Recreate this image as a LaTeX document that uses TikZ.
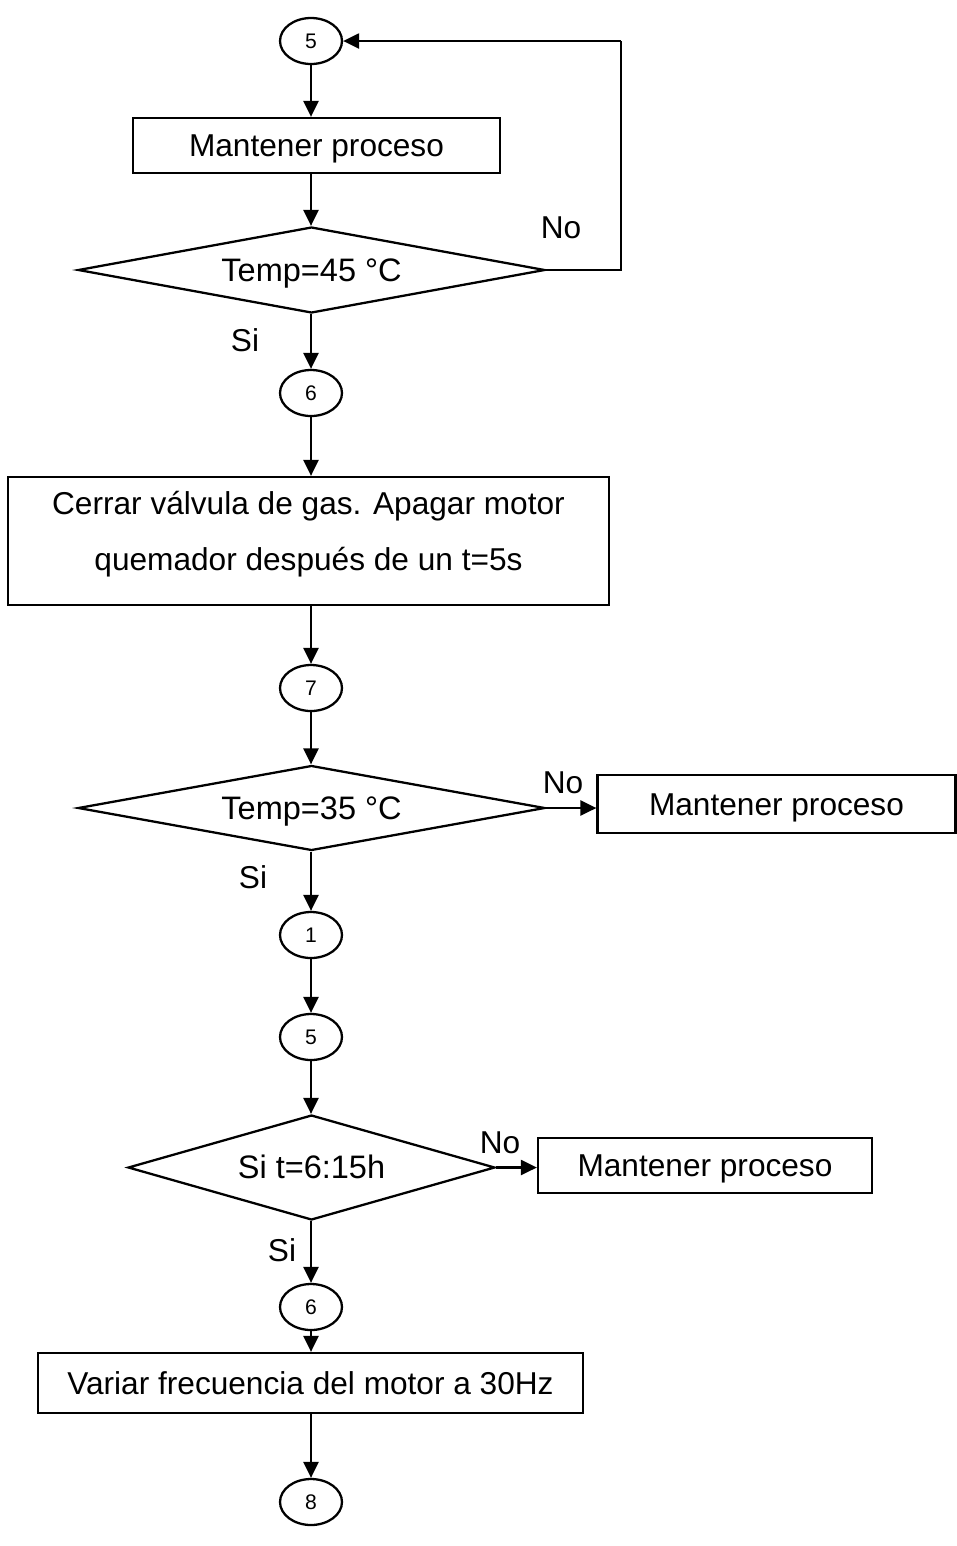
\documentclass[tikz,border=0pt]{standalone}
\usepackage{fontspec}
\setmainfont{Liberation Sans}
\usepackage{tikz}
\usetikzlibrary{arrows.meta,positioning,shapes.geometric,calc}
\tikzset{
  fc/proc/.style={draw, line width=1.3pt, rectangle, inner sep=0pt, align=center, font=\fontsize{18}{32}\selectfont},
  fc/one/.style={text height=13pt, text depth=0pt},
  fc/dec/.style={draw, line width=1.3pt, diamond, aspect=5.4, inner sep=0pt, align=center, font=\fontsize{18.5}{22}\selectfont, fc/one},
  fc/conn/.style={draw, line width=1.3pt, ellipse, inner sep=0pt, minimum width=1.24cm, minimum height=0.92cm, font=\fontsize{12}{14}\selectfont},
  fc/lbl/.style={inner sep=1pt, font=\fontsize{18}{22}\selectfont},
  fc/arr/.style={line width=1.3pt, -{Triangle[length=3.2mm, width=3mm]}},
  fc/line/.style={line width=1.3pt}
}

\begin{document}
\begin{tikzpicture}[x=0.02cm, y=-0.02cm]
  \useasboundingbox (0,0) rectangle (957,1546);

  % first loop: hold until 45 C
  \node[fc/conn] (c5a) at (311,41) {5};
  \node[fc/proc, fc/one, minimum width=7.34cm, minimum height=1.1cm] (keep1) at (316.5,145.5) {Mantener proceso};
  \node[fc/dec, minimum width=9.34cm, minimum height=1.72cm] (dec1) at (311.5,270) {Temp=45 °C};
  \coordinate (loop) at (621,41);
  \draw[fc/arr] (c5a) -- (c5a |- keep1.north);
  \draw[fc/arr] (keep1.south -| c5a) -- (c5a |- dec1.north);
  \draw[fc/line] (dec1.east) -| (loop);
  \draw[fc/arr] (loop) -- (c5a.east);
  \node[fc/lbl] (no1) at (561,228) {No};
  \node[fc/lbl] (si1) at (245,340) {Si};

  \node[fc/conn] (c6a) at (311,393) {6};
  \draw[fc/arr] (dec1.south -| c6a) -- (c6a);

  \node[fc/proc, minimum width=12.02cm, minimum height=2.56cm] (act1) at (308.5,541)
    {Cerrar válvula de gas. Apagar motor\\quemador después de un t=5s\rule[-11.8pt]{0pt}{11.8pt}};
  \draw[fc/arr] (c6a) -- (c6a |- act1.north);

  % second check: 35 C
  \node[fc/conn] (c7) at (311,688) {7};
  \draw[fc/arr] (c7 |- act1.south) -- (c7);
  \node[fc/dec, minimum width=9.34cm, minimum height=1.7cm] (dec2) at (311.5,808) {Temp=35 °C};
  \node[fc/proc, fc/one, minimum width=7.16cm, minimum height=1.16cm] (keep2) at (776.5,804) {Mantener proceso};
  \draw[fc/arr] (c7) -- (c7 |- dec2.north);
  \draw[fc/arr] (dec2.east) -- (dec2.east -| keep2.west);
  \node[fc/lbl] (no2) at (563,783) {No};
  \node[fc/lbl] (si2) at (253,877) {Si};

  \node[fc/conn] (c1) at (311,935) {1};
  \node[fc/conn] (c5b) at (311,1037) {5};
  \draw[fc/arr] (dec2.south -| c1) -- (c1);
  \draw[fc/arr] (c1) -- (c5b);

  % time check
  \node[fc/dec, minimum width=7.34cm, minimum height=2.1cm] (dec3) at (311.5,1167.5) {Si t=6:15h};
  \node[fc/proc, fc/one, minimum width=6.68cm, minimum height=1.1cm] (keep3) at (705,1165.5) {Mantener proceso};
  \draw[fc/arr] (c5b) -- (c5b |- dec3.north);
  \draw[fc/arr] (dec3.east) -- (dec3.east -| keep3.west);
  \node[fc/lbl] (no3) at (500,1143) {No};
  \node[fc/lbl] (si3) at (282,1250) {Si};

  \node[fc/conn] (c6b) at (311,1307) {6};
  \draw[fc/arr] (dec3.south -| c6b) -- (c6b);
  \node[fc/proc, fc/one, minimum width=10.9cm, minimum height=1.2cm] (act2) at (310.5,1383) {Variar frecuencia del motor a 30Hz};
  \draw[fc/arr] (c6b) -- (c6b |- act2.north);
  \node[fc/conn] (c8) at (311,1502) {8};
  \draw[fc/arr] (c8 |- act2.south) -- (c8);
\end{tikzpicture}
\end{document}
